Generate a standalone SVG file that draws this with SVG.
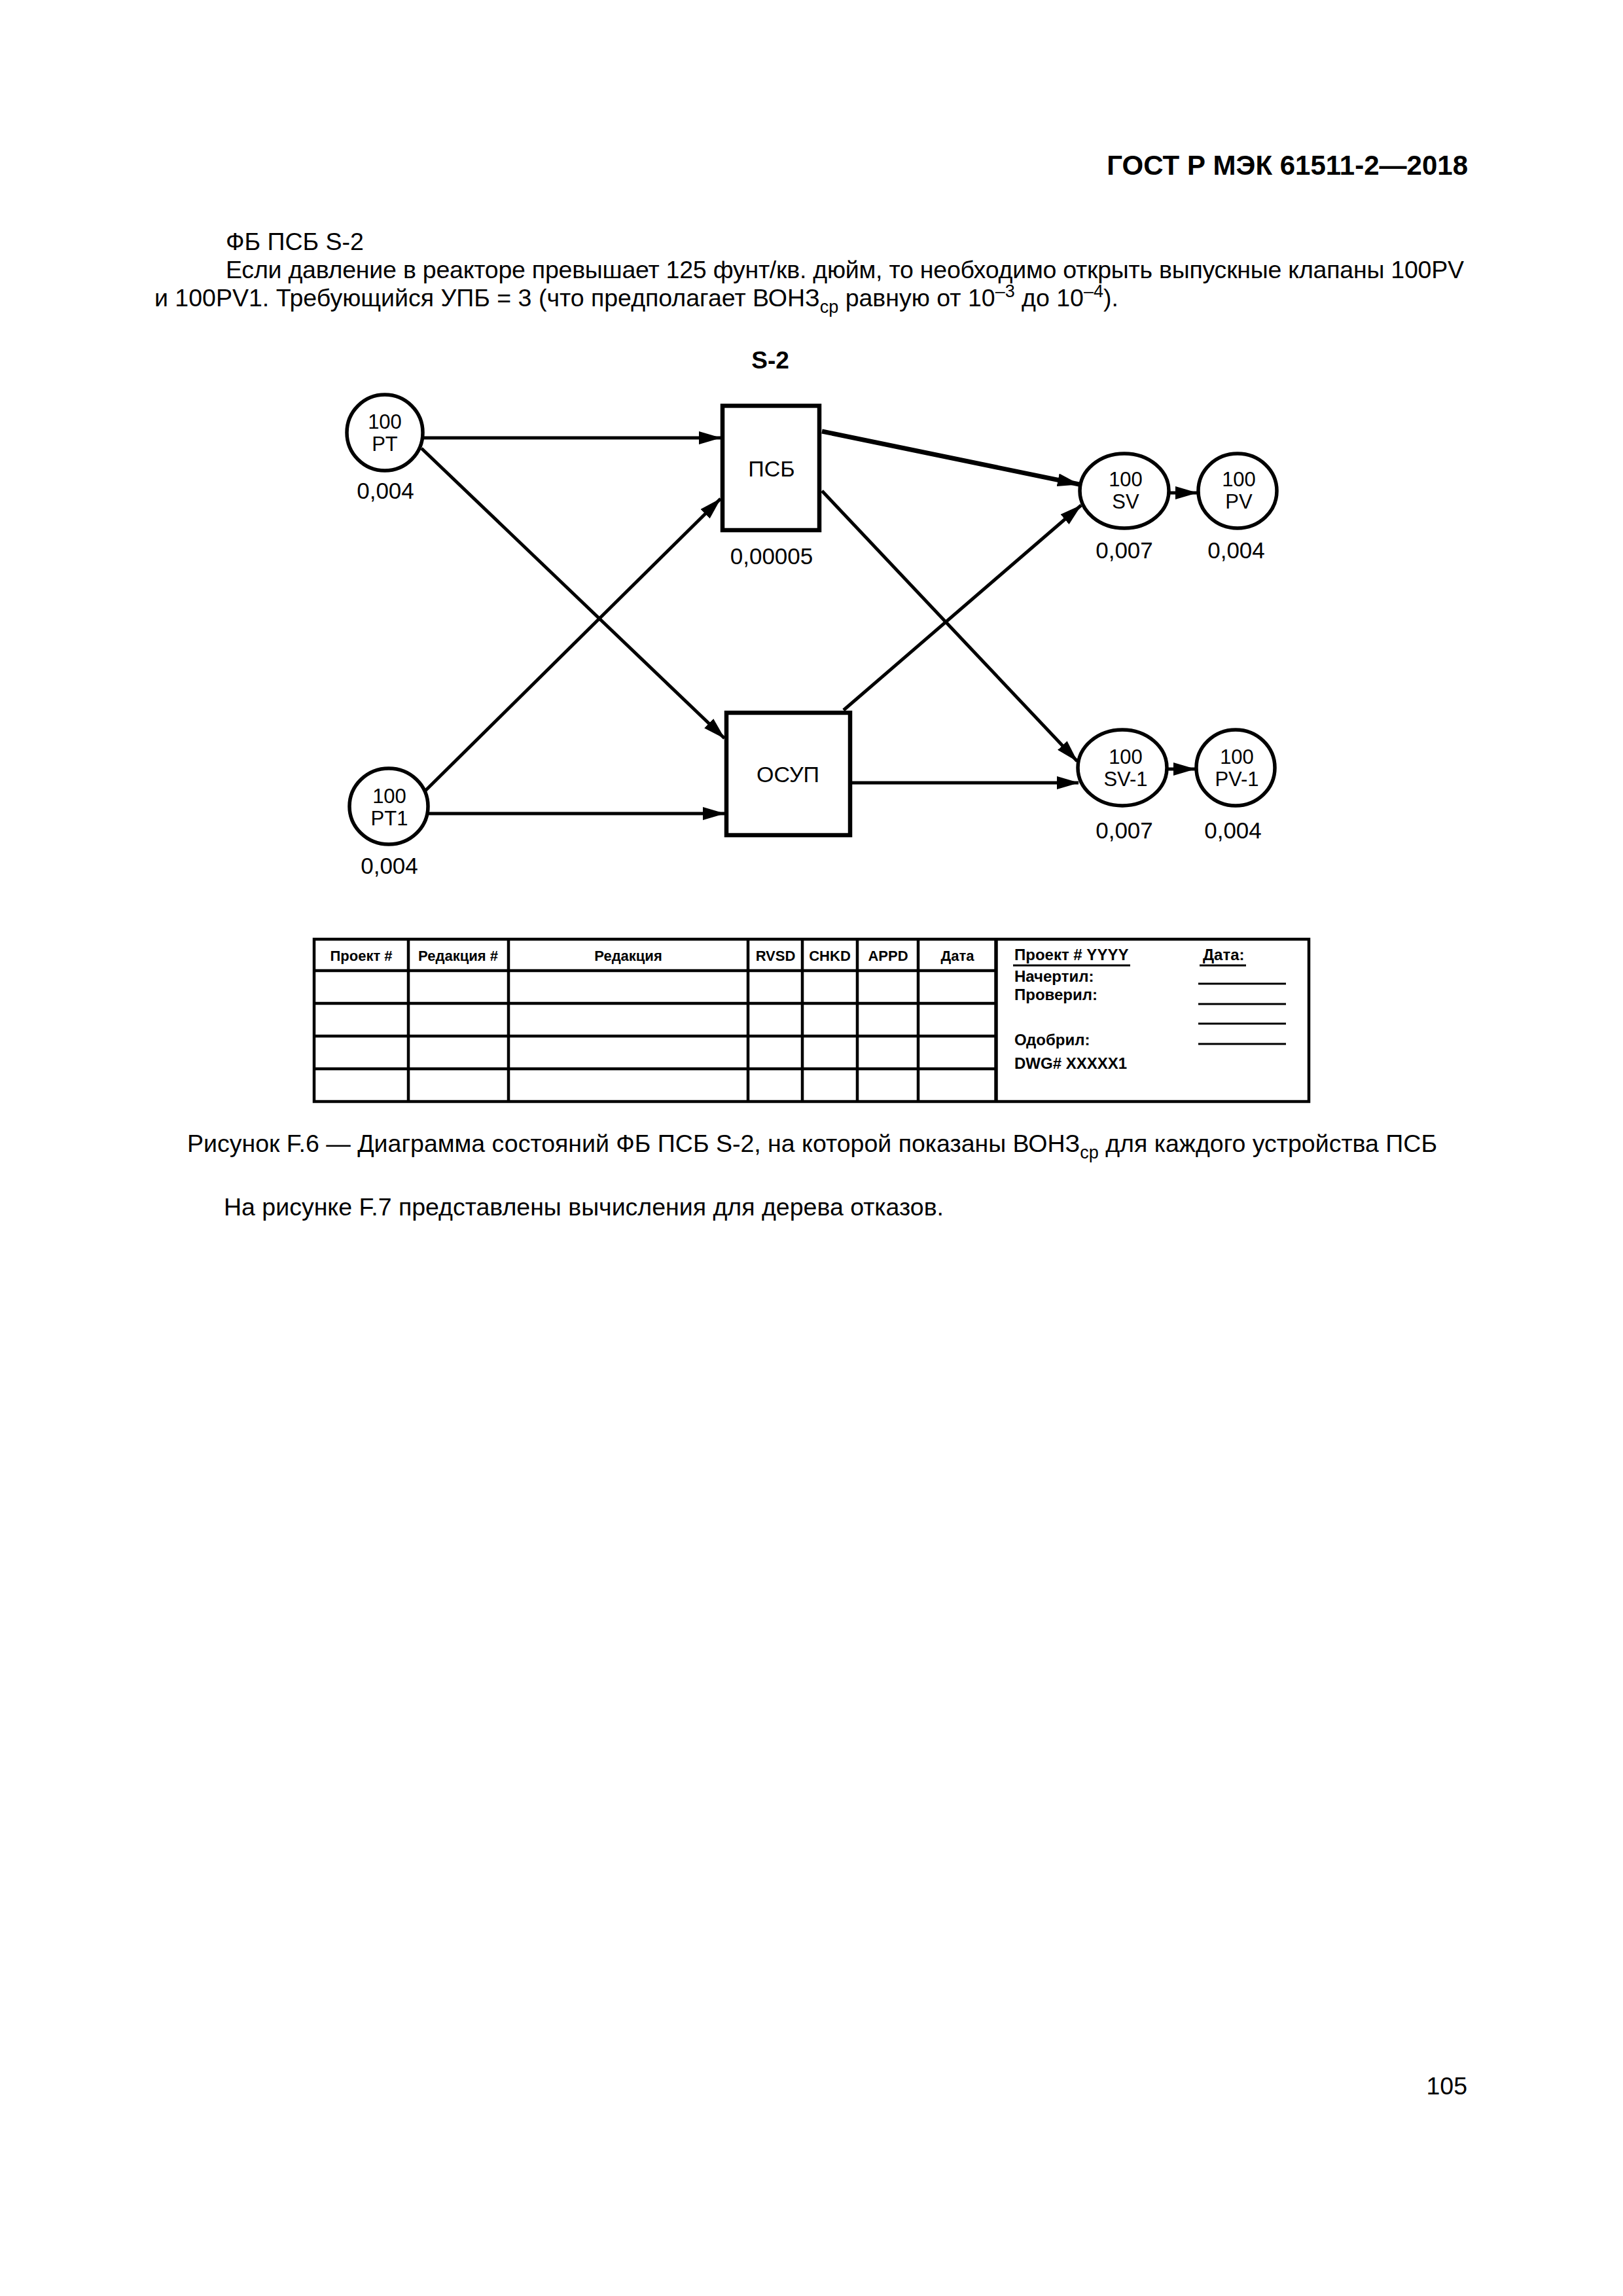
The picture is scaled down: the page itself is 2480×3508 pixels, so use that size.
<svg xmlns="http://www.w3.org/2000/svg" width="2480" height="3508" viewBox="0 0 2480 3508">
<style>
text { font-family: "Liberation Sans", Arial, sans-serif; fill: #000; }
.body { font-size: 37.5px; }
.sm { font-size: 27px; }
.hdr { font-size: 42px; font-weight: bold; }
.nt { font-size: 31px; text-anchor: middle; }
.bt { font-size: 34px; text-anchor: middle; }
.val { font-size: 35px; text-anchor: middle; }
.ttl { font-size: 37px; font-weight: bold; text-anchor: middle; }
.node { fill: #fff; stroke: #000; stroke-width: 5.5; }
.box { fill: #fff; stroke: #000; stroke-width: 6.5; }
.conn { stroke: #000; stroke-width: 5; fill: none; marker-end: url(#arr); }
.tb { fill: none; stroke: #000; stroke-width: 4.5; }
.tl { stroke: #000; stroke-width: 4.5; }
.ul { stroke: #000; stroke-width: 3; }
.th { font-size: 22px; font-weight: bold; text-anchor: middle; }
.tr { font-size: 24px; font-weight: bold; }
</style>
<defs>
<marker id="arr" markerUnits="userSpaceOnUse" markerWidth="34" markerHeight="20" refX="33" refY="10" orient="auto">
<path d="M0,0 L34,10 L0,20 z" fill="#000"/>
</marker>
</defs>
<rect x="0" y="0" width="2480" height="3508" fill="#fff"/>

<g id="page-text">
<text class="hdr" x="2243" y="267" text-anchor="end">ГОСТ Р МЭК 61511-2—2018</text>
<text class="body" x="345" y="382">ФБ ПСБ S-2</text>
<text class="body" x="345" y="425" textLength="1892" lengthAdjust="spacing">Если давление в реакторе превышает 125 фунт/кв. дюйм, то необходимо открыть выпускные клапаны 100PV</text>
<text class="body" x="236" y="468">и 100PV1. Требующийся УПБ = 3 (что предполагает ВОНЗ<tspan class="sm" dy="10">ср</tspan><tspan dy="-10"> равную от 10</tspan><tspan class="sm" dy="-14">–3</tspan><tspan dy="14"> до 10</tspan><tspan class="sm" dy="-14">–4</tspan><tspan dy="14">).</tspan></text>
<text class="body" x="1241" y="1760" text-anchor="middle">Рисунок F.6 — Диаграмма состояний ФБ ПСБ S-2, на которой показаны ВОНЗ<tspan class="sm" dy="10">ср</tspan><tspan dy="-10"> для каждого устройства ПСБ</tspan></text>
<text class="body" x="342" y="1857">На рисунке F.7 представлены вычисления для дерева отказов.</text>
<text class="body" x="2242" y="3200" text-anchor="end">105</text>
</g>

<text id="title" class="ttl" x="1177" y="563">S-2</text>

<g id="connectors">
<line class="conn" x1="646" y1="669" x2="1101" y2="669"/>
<line class="conn" x1="644" y1="685" x2="1107" y2="1128"/>
<line class="conn" x1="650" y1="1208" x2="1101" y2="762"/>
<line class="conn" x1="655" y1="1243" x2="1107" y2="1243"/>
<line class="conn" style="stroke-width:7" x1="1256" y1="659" x2="1649" y2="740"/>
<line class="conn" x1="1256" y1="750" x2="1646" y2="1163"/>
<line class="conn" x1="1289" y1="1085" x2="1652" y2="772"/>
<line class="conn" x1="1302" y1="1196" x2="1648" y2="1196"/>
<line class="conn" x1="1788" y1="753" x2="1829" y2="753"/>
<line class="conn" x1="1785" y1="1175" x2="1826" y2="1175"/>
</g>

<g id="node-PT">
<circle class="node" cx="588" cy="661" r="58"/>
<text class="nt" x="588" y="655">100</text>
<text class="nt" x="588" y="689">PT</text>
<text class="val" x="589" y="762">0,004</text>
</g>
<g id="node-PT1">
<ellipse class="node" cx="594" cy="1232" rx="60" ry="58"/>
<text class="nt" x="595" y="1227">100</text>
<text class="nt" x="595" y="1261">PT1</text>
<text class="val" x="595" y="1335">0,004</text>
</g>
<g id="node-PSB">
<rect class="box" x="1104" y="620" width="148" height="190"/>
<text class="bt" x="1179" y="728">ПСБ</text>
<text class="val" x="1179" y="862">0,00005</text>
</g>
<g id="node-OSUP">
<rect class="box" x="1110" y="1089" width="189" height="187"/>
<text class="bt" x="1204" y="1195">ОСУП</text>
</g>
<g id="node-SV">
<ellipse class="node" cx="1718" cy="750" rx="68" ry="57"/>
<text class="nt" x="1720" y="743">100</text>
<text class="nt" x="1720" y="777">SV</text>
<text class="val" x="1718" y="853">0,007</text>
</g>
<g id="node-PV">
<ellipse class="node" cx="1891" cy="750" rx="60" ry="57"/>
<text class="nt" x="1893" y="743">100</text>
<text class="nt" x="1893" y="777">PV</text>
<text class="val" x="1889" y="853">0,004</text>
</g>
<g id="node-SV1">
<ellipse class="node" cx="1715" cy="1173" rx="68" ry="58"/>
<text class="nt" x="1720" y="1167">100</text>
<text class="nt" x="1720" y="1201">SV-1</text>
<text class="val" x="1718" y="1281">0,007</text>
</g>
<g id="node-PV1">
<ellipse class="node" cx="1888" cy="1173" rx="60" ry="58"/>
<text class="nt" x="1890" y="1167">100</text>
<text class="nt" x="1890" y="1201">PV-1</text>
<text class="val" x="1884" y="1281">0,004</text>
</g>

<g id="title-block">
<rect class="tb" x="480" y="1435" width="1520" height="248"/>
<line class="tl" style="stroke-width:5.5" x1="1522" y1="1435" x2="1522" y2="1683"/>
<line class="tl" x1="624" y1="1435" x2="624" y2="1683"/>
<line class="tl" x1="777" y1="1435" x2="777" y2="1683"/>
<line class="tl" x1="1143" y1="1435" x2="1143" y2="1683"/>
<line class="tl" x1="1226" y1="1435" x2="1226" y2="1683"/>
<line class="tl" x1="1310" y1="1435" x2="1310" y2="1683"/>
<line class="tl" x1="1403" y1="1435" x2="1403" y2="1683"/>
<line class="tl" x1="480" y1="1483" x2="1522" y2="1483"/>
<line class="tl" x1="480" y1="1533" x2="1522" y2="1533"/>
<line class="tl" x1="480" y1="1583" x2="1522" y2="1583"/>
<line class="tl" x1="480" y1="1633" x2="1522" y2="1633"/>
<text class="th" x="552" y="1468">Проект #</text>
<text class="th" x="700" y="1468">Редакция #</text>
<text class="th" x="960" y="1468">Редакция</text>
<text class="th" x="1185" y="1468">RVSD</text>
<text class="th" x="1268" y="1468">CHKD</text>
<text class="th" x="1357" y="1468">APPD</text>
<text class="th" x="1463" y="1468">Дата</text>
<text class="tr" x="1550" y="1467">Проект # YYYY</text>
<line class="ul" x1="1548" y1="1475" x2="1727" y2="1475"/>
<text class="tr" x="1838" y="1467">Дата:</text>
<line class="ul" x1="1833" y1="1475" x2="1904" y2="1475"/>
<text class="tr" x="1550" y="1500">Начертил:</text>
<text class="tr" x="1550" y="1528">Проверил:</text>
<text class="tr" x="1550" y="1597">Одобрил:</text>
<text class="tr" x="1550" y="1633">DWG# XXXXX1</text>
<line class="ul" x1="1831" y1="1503" x2="1965" y2="1503"/>
<line class="ul" x1="1831" y1="1534" x2="1965" y2="1534"/>
<line class="ul" x1="1831" y1="1564" x2="1965" y2="1564"/>
<line class="ul" x1="1831" y1="1595" x2="1965" y2="1595"/>
</g>
</svg>
